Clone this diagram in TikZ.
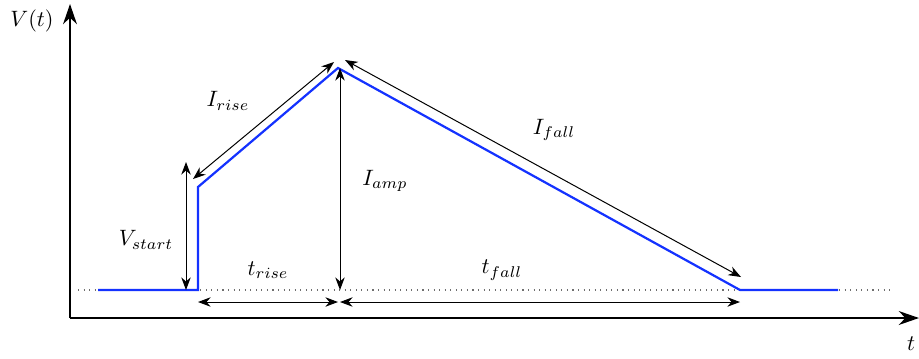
\documentclass[tikz,border=0pt]{standalone}
\usepackage{amsmath,amssymb}
\usepackage{xcolor}
\usepackage{tikz}
\usetikzlibrary{arrows.meta,positioning}
\definecolor{pulseblue}{RGB}{20,50,255}
\definecolor{baselinegray}{RGB}{110,110,110}

\begin{document}
\begin{tikzpicture}[
  x=0.45pt, y=-0.45pt,
  axis/.style={-{Stealth[length=3.2mm,width=2.2mm]}, line width=0.9pt},
  pulse/.style={draw=pulseblue, line width=1pt},
  dim/.style={{Stealth[length=2mm,width=1.5mm]}-{Stealth[length=2mm,width=1.5mm]}, line width=0.45pt},
  lbl/.style={inner sep=1pt, font=\normalsize}
]
  \useasboundingbox (0,0) rectangle (919,358);

  % axes
  \coordinate (origin) at (70,318);
  \coordinate (ytop) at (70,4);
  \coordinate (xend) at (919,318);
  \draw[axis] (origin) -- (ytop);
  \draw[axis] (origin) -- (xend);
  \node[lbl] (vlabel) at (32,21) {$V(t)$};
  \node[lbl] (tlabel) at (911,344) {$t$};

  % baseline
  \coordinate (base0) at (78,290);
  \coordinate (base1) at (890,290);
  \draw[dotted, color=baselinegray, line width=0.5pt] (base0) -- (base1);

  % pulse shape
  \coordinate (p0) at (98,290);
  \coordinate (p1) at (198,290);
  \coordinate (p2) at (198,187);
  \coordinate (peak) at (338,68);
  \coordinate (p4) at (740,290);
  \coordinate (p5) at (838,290);
  \draw[pulse] (p0) -- (p1) -- (p2) -- (peak) -- (p4) -- (p5);

  % dimensions
  \coordinate (vs0) at (186,290);
  \coordinate (vs1) at (186,162);
  \draw[dim] (vs0) -- (vs1);
  \node[lbl] (vstart) at (146,240) {$V_{start}$};

  \coordinate (amp0) at (340,290);
  \coordinate (amp1) at (340,68);
  \draw[dim] (amp0) -- (amp1);
  \node[lbl] (iamp) at (385,181) {$I_{amp}$};

  \coordinate (tr0) at (198,302);
  \coordinate (tr1) at (338,302);
  \coordinate (tf0) at (340,302);
  \coordinate (tf1) at (740,302);
  \draw[dim] (tr0) -- (tr1);
  \draw[dim] (tf0) -- (tf1);
  \node[lbl] (trise) at (268,270) {$t_{rise}$};
  \node[lbl] (tfall) at (502,270) {$t_{fall}$};

  \coordinate (ir0) at (193,179);
  \coordinate (ir1) at (334,62);
  \draw[dim] (ir0) -- (ir1);
  \node[lbl] (irise) at (228,101) {$I_{rise}$};

  \coordinate (if0) at (345,60);
  \coordinate (if1) at (741,277);
  \draw[dim] (if0) -- (if1);
  \node[lbl] (ifall) at (554,130) {$I_{fall}$};
\end{tikzpicture}
\end{document}
